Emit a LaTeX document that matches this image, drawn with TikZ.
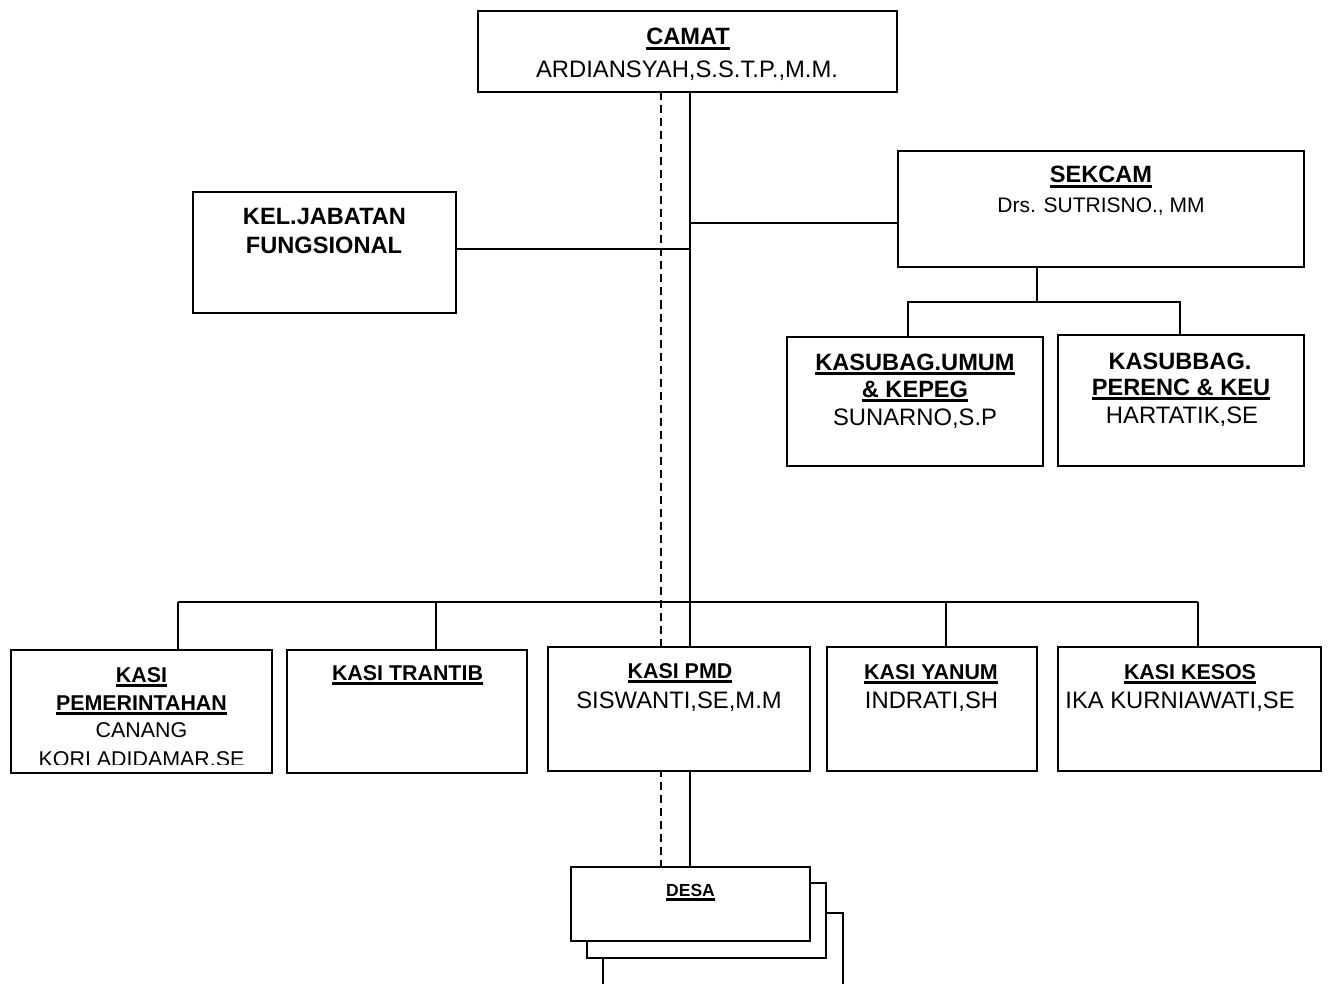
\documentclass[tikz,border=0pt]{standalone}
\usepackage{fontspec}
\setmainfont{Liberation Sans}
\usetikzlibrary{backgrounds}
\newsavebox\myulbox
\newcommand\myul[1]{\sbox\myulbox{#1}\rlap{\vrule height -2.3pt depth 4.7pt width \wd\myulbox}\usebox\myulbox}
\newcommand\fnm{\fontsize{23.8}{28}\selectfont}
\newcommand\fhd{\fontsize{23.6}{28}\selectfont\bfseries}
\newcommand\fbh{\fontsize{21.4}{26}\selectfont\bfseries}
\newcommand\fsm{\fontsize{21.4}{26}\selectfont}
\newcommand\fdrs{\fontsize{21}{25}\selectfont}
\newcommand\fds{\fontsize{17.5}{20}\selectfont\bfseries}
\begin{document}
\begin{tikzpicture}[x=1pt,y=-1pt,
  box/.style={draw, line width=2pt, fill=white, inner sep=0pt, outer sep=0pt},
  conn/.style={line width=2pt},
  dashconn/.style={line width=2pt, dash pattern=on 8pt off 5pt},
  txt/.style={anchor=base, inner sep=0pt, outer sep=0pt}]
\useasboundingbox (0,0) rectangle (1330,984);
\clip (0,0) rectangle (1330,984);
% boxes
\node[box, minimum width=419pt, minimum height=81pt] (camat) at (687.5,52) {};
\node[box, minimum width=263pt, minimum height=121pt] (kel) at (324.5,252.5) {};
\node[box, minimum width=406pt, minimum height=116pt] (sekcam) at (1101,209) {};
\node[box, minimum width=256pt, minimum height=129pt] (umum) at (915,401.5) {};
\node[box, minimum width=246pt, minimum height=131pt] (kasubbag) at (1181,400.5) {};
\node[box, minimum width=261pt, minimum height=123pt] (pem) at (141.5,711.5) {};
\node[box, minimum width=240pt, minimum height=123pt] (trantib) at (407,711.5) {};
\node[box, minimum width=262pt, minimum height=124pt] (pmd) at (679,709) {};
\node[box, minimum width=210pt, minimum height=124pt] (yanum) at (932,709) {};
\node[box, minimum width=263pt, minimum height=124pt] (kesos) at (1189.5,709) {};
\node[box, minimum width=240pt, minimum height=97pt] (desa3) at (723,961.5) {};
\node[box, minimum width=239pt, minimum height=75pt] (desa2) at (706.5,920.5) {};
\node[box, minimum width=239pt, minimum height=74pt] (desa1) at (690.5,904) {};
% helper coordinates
\coordinate (sx) at (690,0);
\coordinate (dx) at (661,0);
\coordinate (kely) at (0,249);
\coordinate (seky) at (0,223);
\coordinate (b2) at (1037,302);
\coordinate (u1) at (908,0);
\coordinate (k1) at (1180,0);
\coordinate (bus) at (0,602);
\coordinate (d1) at (178,0);
\coordinate (d2) at (436,0);
\coordinate (d4) at (946,0);
\coordinate (d5) at (1198,0);
% connectors
\begin{pgfonlayer}{background}
\fill[white] (0,0) rectangle (1330,984);
\draw[dashconn] (camat.south -| dx) -- (desa1.north -| dx);
\draw[conn] (camat.south -| sx) -- (pmd.north -| sx);
\draw[conn] (pmd.south -| sx) -- (desa1.north -| sx);
\draw[conn] (kel.east |- kely) -- (sx |- kely);
\draw[conn] (sx |- seky) -- (sekcam.west |- seky);
\draw[conn] (sekcam.south -| b2) -- (b2);
\draw[conn] (umum.north -| u1) -- (u1 |- b2) -- (k1 |- b2) -- (kasubbag.north -| k1);
\draw[conn] (d1 |- bus) -- (d5 |- bus);
\draw[conn] (d1 |- bus) -- (pem.north -| d1);
\draw[conn] (d2 |- bus) -- (trantib.north -| d2);
\draw[conn] (d4 |- bus) -- (yanum.north -| d4);
\draw[conn] (d5 |- bus) -- (kesos.north -| d5);
\end{pgfonlayer}
% texts
\node[txt, font=\fhd] (t1) at (688,45) {\myul{CAMAT}};
\node[txt, font=\fnm] (t2) at (687,78) {ARDIANSYAH,S.S.T.P.,M.M.};
\node[txt, font=\fhd] (t3) at (324.5,225) {KEL.JABATAN};
\node[txt, font=\fhd] (t4) at (324,254) {FUNGSIONAL};
\node[txt, font=\fhd] (t5) at (1101,183) {\myul{SEKCAM}};
\node[txt, font=\fdrs] (t6) at (1101,213) {Drs. SUTRISNO., MM};
\node[txt, font=\fhd] (t7) at (915,370) {\myul{KASUBAG.UMUM}};
\node[txt, font=\fhd] (t8) at (915,397) {\myul{\& KEPEG}};
\node[txt, font=\fnm] (t9) at (915,425) {SUNARNO,S.P};
\node[txt, font=\fhd] (t10) at (1180,369) {KASUBBAG.};
\node[txt, font=\fhd] (t11) at (1181,395) {\myul{PERENC \& KEU}};
\node[txt, font=\fnm] (t12) at (1182,423) {HARTATIK,SE};
\node[txt, font=\fbh] (t13) at (141.5,682) {\myul{KASI}};
\node[txt, font=\fbh] (t14) at (141.5,710) {\myul{PEMERINTAHAN}};
\node[txt, font=\fsm] (t15) at (141.5,737) {CANANG};
\begin{scope}
\clip (0,640) rectangle (1330,764);
\node[txt, font=\fsm] (t16) at (141.5,766) {KORI ADIDAMAR.SE};
\end{scope}
\node[txt, font=\fbh] (t17) at (407.5,680) {\myul{KASI TRANTIB}};
\node[txt, font=\fbh] (t18) at (680,678) {\myul{KASI PMD}};
\node[txt, font=\fnm] (t19) at (679,708) {SISWANTI,SE,M.M};
\node[txt, font=\fbh] (t20) at (931,679) {\myul{KASI YANUM}};
\node[txt, font=\fnm] (t21) at (931.5,708) {INDRATI,SH};
\node[txt, font=\fbh] (t22) at (1190,679) {\myul{KASI KESOS}};
\node[txt, font=\fnm] (t23) at (1180,708) {IKA KURNIAWATI,SE};
\node[txt, font=\fds] (t24) at (690.5,896) {\myul{DESA}};
\end{tikzpicture}
\end{document}
